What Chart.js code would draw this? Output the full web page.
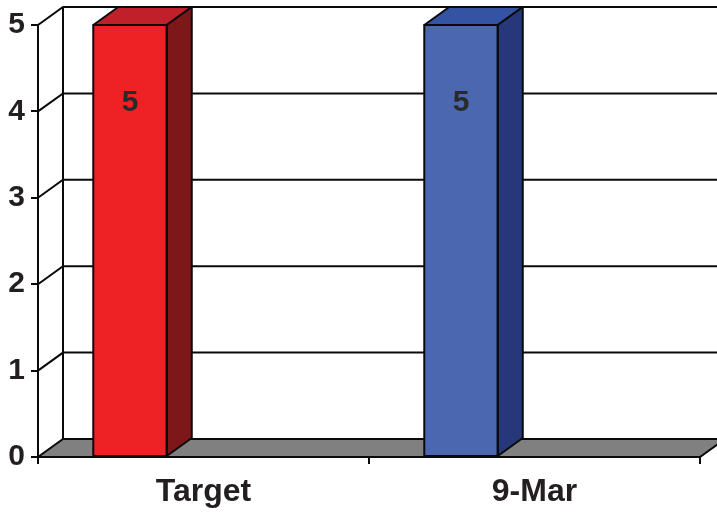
<!DOCTYPE html>
<html>
<head>
<meta charset="utf-8">
<script src="https://cdn.jsdelivr.net/npm/chart.js@4/dist/chart.umd.min.js"></script>
<style>
  html, body { margin: 0; padding: 0; background: #ffffff; }
  #wrap { width: 717px; height: 512px; }
</style>
</head>
<body>
<div id="wrap"><canvas id="chart" width="717" height="512"></canvas></div>
<script>
// Column values and their labels
const categories = ['Target', '9-Mar'];
const values = [5, 5];
const yTicks = [0, 1, 2, 3, 4, 5];

// Face colours for each column: front, top, side
const frontColors = ['#ee2225', '#4a67b0'];
const topColors = ['#c0202a', '#3454a3'];
const sideColors = ['#7e1719', '#27387a'];

// Depth of the 3D box (projection offset)
const DEPTH_X = 25;
const DEPTH_Y = -18;

const FONT_FAMILY = '"Liberation Sans", Arial, sans-serif';

const box3d = {
  id: 'box3d',
  beforeDatasetsDraw(chart) {
    const { ctx, chartArea: a, scales: { y } } = chart;
    ctx.save();
    ctx.strokeStyle = '#0a0a0a';
    ctx.lineWidth = 2;
    const backL = a.left + DEPTH_X;
    const backR = a.right + DEPTH_X;
    const y0 = y.getPixelForValue(0);

    // floor
    ctx.beginPath();
    ctx.moveTo(a.left, y0);
    ctx.lineTo(a.right, y0);
    ctx.lineTo(backR, y0 + DEPTH_Y);
    ctx.lineTo(backL, y0 + DEPTH_Y);
    ctx.closePath();
    ctx.fillStyle = '#808080';
    ctx.fill();
    ctx.stroke();

    // back wall edge
    ctx.beginPath();
    ctx.moveTo(backL, y0 + DEPTH_Y);
    ctx.lineTo(backL, y.getPixelForValue(yTicks[yTicks.length - 1]) + DEPTH_Y);
    ctx.stroke();

    // side wall diagonals and back wall gridlines
    yTicks.forEach(v => {
      if (v === 0) return;
      const py = y.getPixelForValue(v);
      ctx.beginPath();
      ctx.moveTo(a.left, py);
      ctx.lineTo(backL, py + DEPTH_Y);
      ctx.lineTo(backR, py + DEPTH_Y);
      ctx.stroke();
    });

    // axis line runs past the floor edge
    ctx.beginPath();
    ctx.moveTo(a.left, y.getPixelForValue(yTicks[yTicks.length - 1]));
    ctx.lineTo(a.left, y0 + 7);
    ctx.stroke();
    ctx.restore();
  },
  afterDatasetsDraw(chart) {
    const { ctx } = chart;
    const meta = chart.getDatasetMeta(0);
    ctx.save();
    ctx.strokeStyle = '#0a0a0a';
    ctx.lineWidth = 2;
    ctx.lineJoin = 'round';
    meta.data.forEach((bar, i) => {
      const p = bar.getProps(['x', 'y', 'base', 'width'], true);
      const L = p.x - p.width / 2;
      const R = p.x + p.width / 2;
      const top = p.y;
      const base = p.base;

      // top face
      ctx.beginPath();
      ctx.moveTo(L, top);
      ctx.lineTo(R, top);
      ctx.lineTo(R + DEPTH_X, top + DEPTH_Y);
      ctx.lineTo(L + DEPTH_X, top + DEPTH_Y);
      ctx.closePath();
      ctx.fillStyle = topColors[i];
      ctx.fill();
      ctx.stroke();

      // side face
      ctx.beginPath();
      ctx.moveTo(R, top);
      ctx.lineTo(R + DEPTH_X, top + DEPTH_Y);
      ctx.lineTo(R + DEPTH_X, base + DEPTH_Y);
      ctx.lineTo(R, base);
      ctx.closePath();
      ctx.fillStyle = sideColors[i];
      ctx.fill();
      ctx.stroke();

      // front outline
      ctx.strokeRect(L, top, p.width, base - top);

      // value label
      ctx.fillStyle = '#2a2a2a';
      ctx.font = 'bold 30px ' + FONT_FAMILY;
      ctx.textAlign = 'center';
      ctx.textBaseline = 'middle';
      ctx.fillText(String(values[i]), p.x, top + 78);
    });
    ctx.restore();
  }
};

new Chart(document.getElementById('chart'), {
  type: 'bar',
  data: {
    labels: categories,
    datasets: [
      {
        data: values,
        backgroundColor: frontColors,
        borderWidth: 0,
        categoryPercentage: 0.888,
        barPercentage: 0.5
      },
      {
        // empty companion series slot
        data: categories.map(() => null),
        categoryPercentage: 0.888,
        barPercentage: 0.5
      }
    ]
  },
  options: {
    responsive: false,
    animation: false,
    devicePixelRatio: 1,
    layout: { padding: { top: 25, right: 17, left: 0, bottom: 0 } },
    plugins: {
      legend: { display: false },
      tooltip: { enabled: false }
    },
    scales: {
      x: {
        afterFit(scale) { scale.height = 55; },
        border: { display: false },
        grid: {
          offset: true,
          drawOnChartArea: false,
          drawTicks: true,
          tickLength: 7,
          color: '#0a0a0a',
          lineWidth: 2
        },
        ticks: {
          color: '#231f20',
          font: { family: FONT_FAMILY, size: 32, weight: 'bold' },
          padding: 9,
          maxRotation: 0
        }
      },
      y: {
        min: 0,
        max: 5,
        afterFit(scale) { scale.width = 38; },
        border: { display: false },
        grid: {
          drawOnChartArea: false,
          drawTicks: true,
          tickLength: 7,
          color: '#0a0a0a',
          lineWidth: 2
        },
        afterBuildTicks(scale) { scale.ticks = yTicks.map(v => ({ value: v })); },
        ticks: {
          color: '#231f20',
          font: { family: FONT_FAMILY, size: 30, weight: 'bold' },
          padding: 6
        }
      }
    }
  },
  plugins: [box3d]
});
</script>
</body>
</html>
